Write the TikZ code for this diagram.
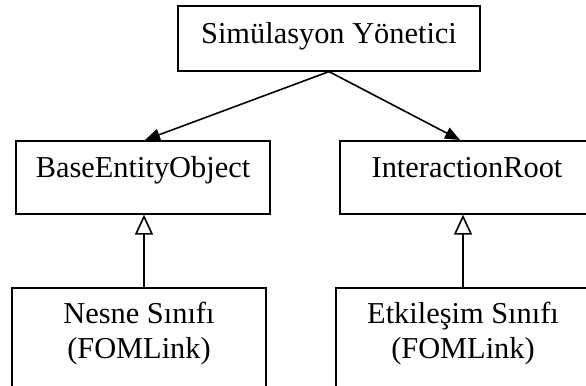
\documentclass[tikz,border=0pt]{standalone}
\usepackage{fontspec}
\setmainfont{Liberation Serif}
\usetikzlibrary{arrows.meta, calc}

\begin{document}
\begin{tikzpicture}[
    x=1bp, y=-1bp,
    >={Triangle[length=15bp, width=12bp]}, % Filled arrow tips
    box/.style={draw, line width=1.6bp, anchor=north, inner sep=0pt,
        minimum width=254bp, font=\fontsize{30.5}{35}\selectfont}, % Class boxes
    inherit/.style={-{Triangle[open, length=20bp, width=18bp, fill=white]}, line width=1.6bp} % Generalisation
]

% Fix the page size
\useasboundingbox (0,0) rectangle (586,385);

% Top box
\node[box, minimum width=302bp, text height=38bp, text depth=27bp] (sim) at (329,5) {Simülasyon Yönetici};

% Middle boxes
\node[box, text height=37bp, text depth=36bp] (base) at (143,140) {BaseEntityObject};
\node[box, text height=37bp, text depth=36bp] (inter) at (467,140) {InteractionRoot};

% Bottom boxes (cut by the page edge)
\node[box, align=center, text height=71bp, text depth=40bp] (nesne) at (139,287) {Nesne Sınıfı\\(FOMLink)};
\node[box, align=center, text height=71bp, text depth=40bp] (etk) at (463,287) {Etkileşim Sınıfı\\(FOMLink)};

% Associations
\draw[->, line width=1.6bp] (sim.south) -- ($(base.north)+(2,0)$);
\draw[->, line width=1.6bp] (sim.south) -- ($(inter.north)+(-7,0)$);

% Inheritance
\draw[inherit] ($(nesne.north)+(5,0)$) -- ($(base.south)+(1,0)$);
\draw[inherit] (etk.north) -- (etk.north |- inter.south);

\end{tikzpicture}
\end{document}
